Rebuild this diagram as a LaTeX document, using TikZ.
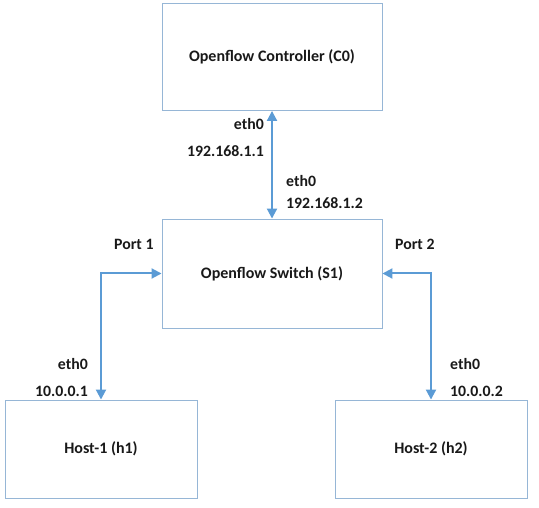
\documentclass[tikz,border=0pt]{standalone}
\usepackage{fontspec}
\setmainfont{Carlito}
\usetikzlibrary{arrows.meta}
\definecolor{boxline}{RGB}{150,182,214}
\definecolor{arrowblue}{RGB}{91,155,213}
\definecolor{txt}{RGB}{25,25,25}
\begin{document}
\begin{tikzpicture}[x=1pt,y=-1pt,
  box/.style={draw=boxline,line width=0.9pt,fill=white,rectangle,inner sep=0pt,
    font=\fontsize{16}{18}\selectfont\bfseries,text=txt},
  link/.style={draw=arrowblue,line width=2pt,{Triangle[length=10pt,width=10pt]}-{Triangle[length=10pt,width=10pt]}},
  lbl/.style={font=\fontsize{15.8}{18}\selectfont\bfseries,text=txt,inner sep=0pt}]
\useasboundingbox (0,0) rectangle (539,508);
\node[box,minimum width=220pt,minimum height=107pt] (c0) at (272,57) {Openflow Controller (C0)};
\node[box,minimum width=220pt,minimum height=109pt] (s1) at (272,273.5) {Openflow Switch (S1)};
\node[box,minimum width=192pt,minimum height=98pt] (h1) at (101,449) {Host-1 (h1)};
\node[box,minimum width=192pt,minimum height=98pt] (h2) at (431,449) {Host-2 (h2)};
\draw[link] (c0.south) -- (s1.north);
\draw[link] (s1.west) -| (h1.north);
\draw[link] (s1.east) -| (h2.north);
\node[lbl,anchor=east] (l1) at (264,124) {eth0};
\node[lbl,anchor=east] (l2) at (264,151) {192.168.1.1};
\node[lbl,anchor=west] (l3) at (286,181) {eth0};
\node[lbl,anchor=west] (l4) at (286,203) {192.168.1.2};
\node[lbl,anchor=west] (l5) at (114,244) {Port 1};
\node[lbl,anchor=west] (l6) at (395,244) {Port 2};
\node[lbl,anchor=east] (l7) at (88,364) {eth0};
\node[lbl,anchor=east] (l8) at (88,391) {10.0.0.1};
\node[lbl,anchor=west] (l9) at (450,364) {eth0};
\node[lbl,anchor=west] (l10) at (450,391) {10.0.0.2};
\end{tikzpicture}
\end{document}
